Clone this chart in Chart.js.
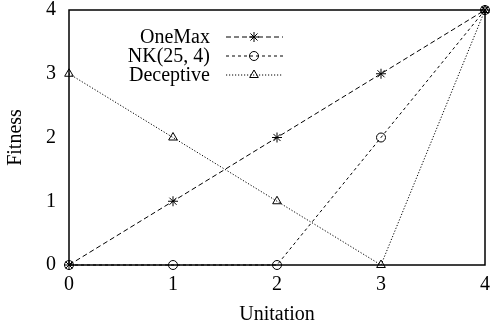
<!DOCTYPE html>
<html><head><meta charset="utf-8">
<script src="https://cdn.jsdelivr.net/npm/chart.js@4/dist/chart.umd.min.js"></script>
<style>html,body{margin:0;padding:0;background:#fff;}#wrap{width:491px;height:331px;}</style>
</head><body><div id="wrap"><canvas id="c" width="491" height="331"></canvas></div>
<script>
const unitation = [0, 1, 2, 3, 4];
const xTickLabels = ['0', '1', '2', '3', '4'];
const yTickLabels = ['0', '1', '2', '3', '4'];
const seriesNames = ['OneMax', 'NK(25, 4)', 'Deceptive'];
const oneMax = [0, 1, 2, 3, 4];
const nk254 = [0, 0, 0, 2, 4];
const deceptive = [3, 2, 1, 0, 4];

const FONT = '"Liberation Serif", "Times New Roman", serif';
const FS = 20;
const styles = [
  {dash: [5, 3], point: 'star', r: 5},
  {dash: [3, 3], point: 'circle', r: 4.5},
  {dash: [1.2, 1.8], point: 'triangle', r: 5}
];
const seriesData = [oneMax, nk254, deceptive];

const frameLegend = {
  id: 'frameLegend',
  afterDatasetsDraw(chart) {
    const {ctx, chartArea: a} = chart;
    ctx.save();
    ctx.strokeStyle = '#000';
    ctx.lineWidth = 1.5;
    ctx.setLineDash([]);
    ctx.strokeRect(a.left, a.top, a.right - a.left, a.bottom - a.top);
    const ys = [37, 56, 75];
    ctx.font = FS + 'px ' + FONT;
    ctx.textAlign = 'right';
    ctx.textBaseline = 'middle';
    seriesNames.forEach((n, i) => {
      const y = ys[i];
      ctx.fillStyle = '#000';
      ctx.fillText(n, 210, y + 1);
      ctx.lineWidth = 1;
      ctx.setLineDash(styles[i].dash);
      ctx.beginPath(); ctx.moveTo(226, y); ctx.lineTo(283, y); ctx.stroke();
      ctx.setLineDash([]);
      ctx.fillStyle = 'rgba(0,0,0,0)';
      Chart.helpers.drawPoint(ctx, {pointStyle: styles[i].point, radius: styles[i].r, borderWidth: 1}, 254, y);
    });
    ctx.restore();
  }
};

new Chart(document.getElementById('c'), {
  type: 'line',
  data: {
    labels: unitation,
    datasets: seriesData.map((d, i) => ({
      label: seriesNames[i],
      data: d.map((v, j) => ({x: unitation[j], y: v})),
      borderColor: '#000',
      borderWidth: 1,
      borderDash: styles[i].dash,
      pointStyle: styles[i].point,
      pointRadius: styles[i].r,
      pointBorderWidth: 1,
      pointBorderColor: '#000',
      pointBackgroundColor: 'rgba(0,0,0,0)',
      fill: false,
      tension: 0
    }))
  },
  options: {
    responsive: false,
    animation: false,
    clip: false,
    layout: {padding: {top: 10, right: 4, left: 0, bottom: 0}},
    plugins: {legend: {display: false}, tooltip: {enabled: false}},
    scales: {
      x: {
        type: 'linear', min: 0, max: 4,
        afterBuildTicks(s) { s.ticks = unitation.map(v => ({value: v})); },
        ticks: {
          callback: (v) => xTickLabels[unitation.indexOf(v)],
          font: {family: FONT, size: FS}, color: '#000', padding: 8, maxRotation: 0
        },
        grid: {display: false, drawTicks: false},
        border: {display: false},
        title: {display: true, text: 'Unitation', font: {family: FONT, size: FS}, color: '#000', padding: {top: 8}},
        afterFit(s) { s.height = 66; s.paddingLeft = 0; s.paddingRight = 0; }
      },
      y: {
        type: 'linear', min: 0, max: 4,
        afterBuildTicks(s) { s.ticks = [0,1,2,3,4].map(v => ({value: v})); },
        ticks: {
          callback: (v) => yTickLabels[v],
          font: {family: FONT, size: FS}, color: '#000', padding: 13
        },
        grid: {display: false, drawTicks: false},
        border: {display: false},
        title: {display: true, text: 'Fitness', font: {family: FONT, size: FS}, color: '#000', padding: {top: 4, bottom: 4}},
        afterFit(s) { s.width = 69; s.paddingTop = 0; s.paddingBottom = 0; }
      }
    }
  },
  plugins: [frameLegend]
});
</script>
</body></html>
